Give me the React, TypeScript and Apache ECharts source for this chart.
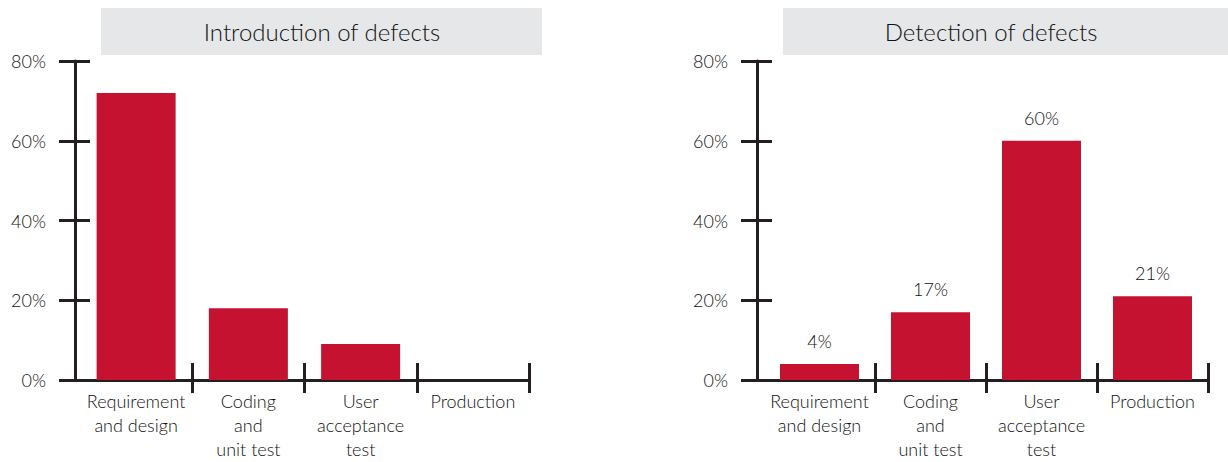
import React, { useEffect, useRef } from "react";
import * as echarts from "echarts";

const categories = ["Requirement\nand design", "Coding\nand\nunit test", "User\nacceptance\ntest", "Production"];
const introductionValues = [72, 18, 9, 0];
const detectionValues = [4, 17, 60, 21];
const yTicks = { min: 0, max: 80, interval: 20 };
const titles = ["Introduction of defects", "Detection of defects"];

const INK = "#231f20";
const TEXT = "#111111";
const RED = "#c41230";
const FONT = "Lato";
const WEIGHT = 300;

const skipFirst = (i: number) => i !== 0;

function axesFor(gridIndex: number, yOffset: number) {
  const xs = [
    {
      type: "category", gridIndex, data: categories, position: "bottom",
      axisLine: { show: true, lineStyle: { color: INK, width: 3 } },
      axisTick: { show: true, inside: false, length: 13, interval: skipFirst, alignWithLabel: false, lineStyle: { color: INK, width: 3 } },
      axisLabel: { show: true, color: TEXT, fontSize: 18, fontWeight: WEIGHT, fontFamily: FONT, lineHeight: 24, margin: 9, interval: 0 },
      splitLine: { show: false },
    },
    {
      type: "category", gridIndex, data: categories, position: "bottom",
      axisLine: { show: false },
      axisTick: { show: true, inside: true, length: 17, interval: skipFirst, alignWithLabel: false, lineStyle: { color: INK, width: 3 } },
      axisLabel: { show: false },
      splitLine: { show: false },
    },
  ];
  const ys = [
    {
      type: "value", gridIndex, ...yTicks, position: "left", offset: yOffset,
      axisLine: { show: true, lineStyle: { color: INK, width: 3 } },
      axisTick: { show: true, inside: false, length: 16, lineStyle: { color: INK, width: 3 } },
      axisLabel: { show: true, color: TEXT, fontSize: 18, fontWeight: WEIGHT, fontFamily: FONT, margin: 29, formatter: "{value}%" },
      splitLine: { show: false },
    },
    {
      type: "value", gridIndex, ...yTicks, position: "left", offset: yOffset,
      axisLine: { show: false },
      axisTick: { show: true, inside: true, length: 15, lineStyle: { color: INK, width: 3 } },
      axisLabel: { show: false },
      splitLine: { show: false },
    },
  ];
  return { xs, ys };
}

export default function App() {
  const ref = useRef<HTMLDivElement>(null);
  useEffect(() => {
    document.body.style.margin = "0";
    const chart = echarts.init(ref.current!, null, { renderer: "svg" });
    const a0 = axesFor(0, 5);
    const a1 = axesFor(1, 7);
    chart.setOption({
      animation: false,
      backgroundColor: "#ffffff",
      grid: [
        { left: 80, right: 699, top: 61, bottom: 82, containLabel: false },
        { left: 764, right: 20, top: 61, bottom: 82, containLabel: false },
      ],
      xAxis: [...a0.xs, ...a1.xs],
      yAxis: [...a0.ys, ...a1.ys],
      graphic: [
        { type: "rect", left: 101, top: 8, shape: { width: 441, height: 47 }, style: { fill: "#e6e7e8" } },
        { type: "text", x: 322, y: 31, style: { text: titles[0], fill: TEXT, font: `${WEIGHT} 24px '${FONT}'`, textAlign: "center", textVerticalAlign: "middle" } },
        { type: "rect", left: 783, top: 8, shape: { width: 445, height: 47 }, style: { fill: "#e6e7e8" } },
        { type: "text", x: 991, y: 31, style: { text: titles[1], fill: TEXT, font: `${WEIGHT} 24px '${FONT}'`, textAlign: "center", textVerticalAlign: "middle" } },
      ],
      series: [
        {
          type: "bar", xAxisIndex: 0, yAxisIndex: 0, data: introductionValues, barWidth: 79,
          itemStyle: { color: RED }, label: { show: false },
        },
        {
          type: "bar", xAxisIndex: 2, yAxisIndex: 2, data: detectionValues, barWidth: 79,
          itemStyle: { color: RED },
          label: { show: true, position: "top", distance: 14, formatter: "{c}%", color: TEXT, fontSize: 18, fontWeight: WEIGHT, fontFamily: FONT },
        },
      ],
    });
    return () => chart.dispose();
  }, []);
  return <div ref={ref} style={{ width: 1228, height: 462 }} />;
}
